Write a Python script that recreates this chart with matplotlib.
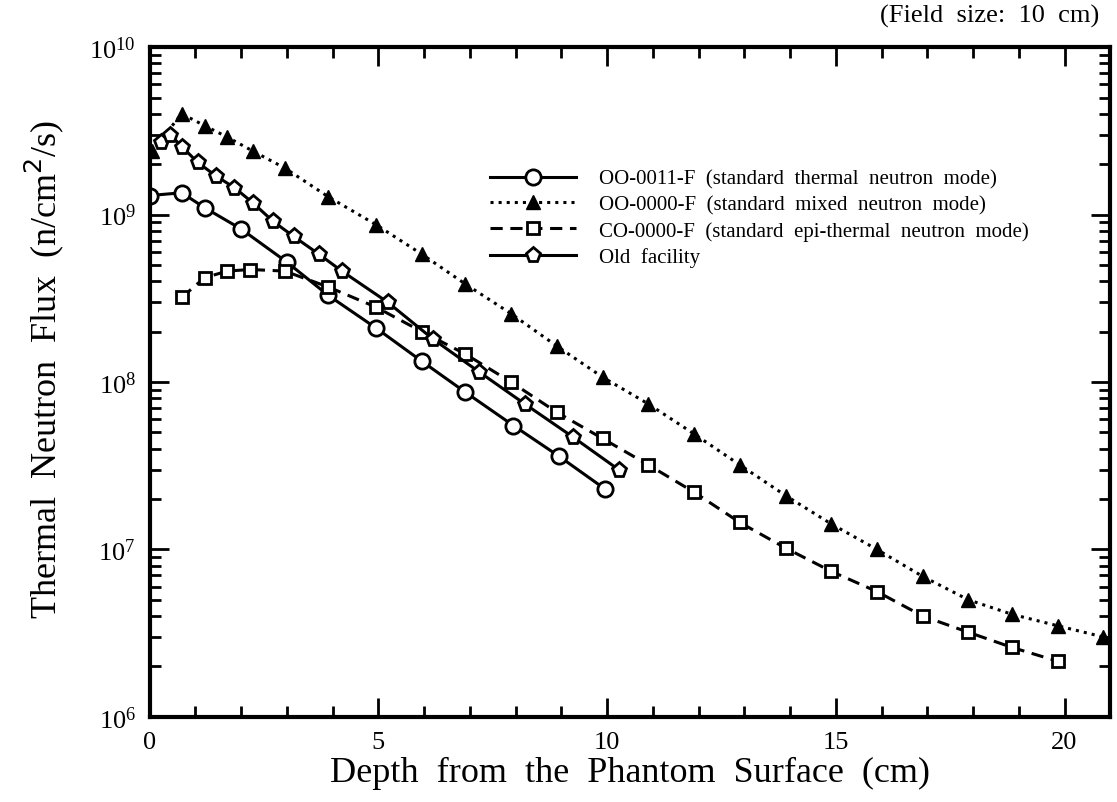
import numpy as np
import matplotlib.pyplot as plt
from matplotlib.ticker import LogLocator, MultipleLocator, NullFormatter

plt.rcParams['font.family'] = ['Liberation Serif', 'DejaVu Serif']

# OO-0011-F (standard thermal neutron mode)
thermal_x = [0.0, 0.7, 1.2, 2.0, 3.0, 3.9, 4.95, 5.95, 6.9, 7.95, 8.95, 9.95]
thermal_y = [1.3e9, 1.35e9, 1.1e9, 8.2e8, 5.2e8, 3.3e8, 2.1e8, 1.33e8, 8.7e7, 5.5e7, 3.6e7, 2.3e7]

# OO-0000-F (standard mixed neutron mode)
mixed_x = [0.05, 0.7, 1.2, 1.7, 2.25, 2.95, 3.9, 4.95, 5.95, 6.9, 7.9, 8.9, 9.9,
           10.9, 11.9, 12.9, 13.9, 14.9, 15.9, 16.9, 17.9, 18.85, 19.85, 20.85]
mixed_y = [2.4e9, 4.0e9, 3.4e9, 2.9e9, 2.4e9, 1.9e9, 1.28e9, 8.7e8, 5.8e8, 3.85e8, 2.56e8,
           1.64e8, 1.07e8, 7.4e7, 4.9e7, 3.2e7, 2.1e7, 1.42e7, 1.0e7, 6.9e6, 5.0e6, 4.1e6,
           3.5e6, 3.0e6]

# CO-0000-F (standard epi-thermal neutron mode)
epi_x = [0.7, 1.2, 1.7, 2.2, 2.95, 3.9, 4.95, 5.95, 6.9, 7.9, 8.9, 9.9,
         10.9, 11.9, 12.9, 13.9, 14.9, 15.9, 16.9, 17.9, 18.85, 19.85]
epi_y = [3.2e8, 4.2e8, 4.6e8, 4.7e8, 4.6e8, 3.7e8, 2.8e8, 2.0e8, 1.47e8, 1.0e8, 6.6e7,
         4.6e7, 3.2e7, 2.2e7, 1.45e7, 1.02e7, 7.4e6, 5.6e6, 4.0e6, 3.2e6, 2.6e6, 2.15e6]

# Old facility
old_x = [0.25, 0.45, 0.7, 1.05, 1.45, 1.85, 2.25, 2.7, 3.15, 3.7, 4.2,
         5.2, 6.2, 7.2, 8.2, 9.25, 10.25]
old_y = [2.7e9, 3.0e9, 2.55e9, 2.05e9, 1.7e9, 1.45e9, 1.18e9, 9.1e8, 7.4e8, 5.8e8, 4.6e8,
         3.0e8, 1.8e8, 1.15e8, 7.4e7, 4.7e7, 3.0e7]

labels = ['OO-0011-F  (standard  thermal  neutron  mode)',
          'OO-0000-F  (standard  mixed  neutron  mode)',
          'CO-0000-F  (standard  epi-thermal  neutron  mode)',
          'Old  facility']

fig = plt.figure(figsize=(11.17, 8.03), dpi=100)
ax = fig.add_axes([0.134, 0.106, 0.860, 0.834])

mk = dict(markerfacecolor='white', markeredgecolor='black', markeredgewidth=2, color='black')
ax.plot(thermal_x, thermal_y, '-', marker='o', markersize=11, lw=2.2, label=labels[0], **mk)
ax.plot(mixed_x, mixed_y, ':', marker='^', markersize=10, lw=2.2, color='black',
        markerfacecolor='black', markeredgecolor='black', label=labels[1])
ax.plot(epi_x, epi_y, '--', marker='s', markersize=8, lw=2.2, dashes=(4, 2.5), label=labels[2], **mk)
ax.plot(old_x, old_y, '-', marker='p', markersize=11, lw=2.2, label=labels[3], **mk)

ax.set_yscale('log')
ax.set_xlim(0, 21)
ax.set_ylim(1e6, 1e10)

ax.xaxis.set_major_locator(MultipleLocator(5))
ax.xaxis.set_minor_locator(MultipleLocator(1))
ax.yaxis.set_major_locator(LogLocator(base=10, numticks=10))
ax.yaxis.set_minor_locator(LogLocator(base=10, subs=np.arange(2, 10), numticks=20))
ax.yaxis.set_minor_formatter(NullFormatter())

ax.tick_params(which='both', direction='in', top=True, right=True, width=2)
ax.tick_params(which='major', length=14, labelsize=19, pad=10)
ax.tick_params(which='minor', length=8)
for s in ax.spines.values():
    s.set_linewidth(3)

ax.set_xlabel('Depth  from  the  Phantom  Surface  (cm)', fontsize=26, labelpad=2)
ax.set_ylabel('Thermal  Neutron  Flux  (n/cm$^2$/s)', fontsize=26)
ax.yaxis.set_label_coords(-0.087, 0.52)
ax.text(0.989, 1.03, '(Field  size:  10  cm)', transform=ax.transAxes, ha='right', va='bottom', fontsize=19)

leg = ax.legend(loc='upper left', bbox_to_anchor=(0.346, 0.83), frameon=False, fontsize=15,
                handlelength=4.1, handletextpad=1.1, labelspacing=0.3, borderaxespad=0)

fig.savefig('out.png', dpi=100)
